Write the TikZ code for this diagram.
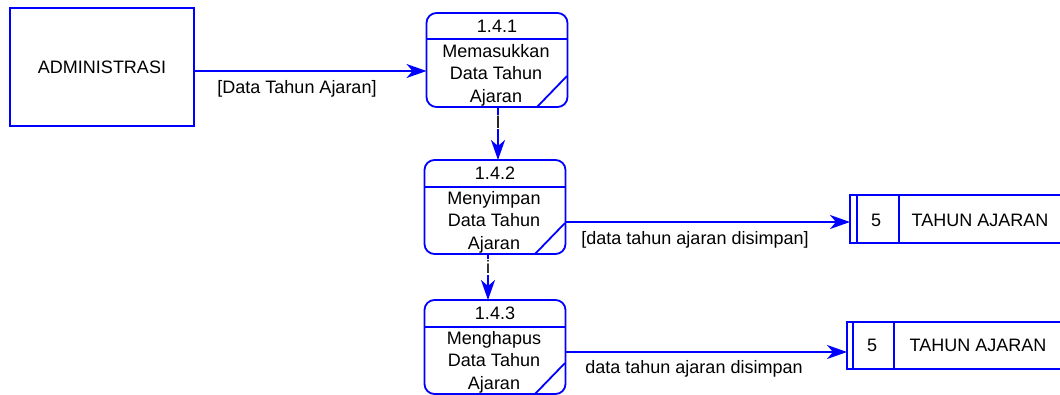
\documentclass[tikz,border=0pt]{standalone}
\usepackage{fontspec}
\setmainfont{Liberation Sans}
\usetikzlibrary{arrows.meta}
\definecolor{dfdblue}{RGB}{0,0,255}
\tikzset{
  x=1pt, y=-1pt,
  every node/.style={inner sep=0pt, outer sep=0pt, font=\fontsize{18}{22.5}\selectfont, text=black},
  line/.style={draw=dfdblue, line width=1.8pt},
  proc/.style={line, rounded corners=10pt, minimum width=141pt, minimum height=94pt},
  extent/.style={line, minimum width=184pt, minimum height=118pt},
  flow/.style={draw=dfdblue, line width=1.8pt, -{Stealth[length=20pt, width=14pt, inset=6pt]}},
  flowlabel/.style={fill=white, inner sep=1pt},
}
\begin{document}
\begin{tikzpicture}
\useasboundingbox (0,0) rectangle (1060,394);
% external entity
\node[extent] (adm) at (102,67) {ADMINISTRASI};
% processes
\node[proc] (p1) at (497,60) {};
\draw[line] (p1.west |- 0,39) -- (p1.east |- 0,39);
\draw[line] (537,107) -- (567,76);
\node (p1n) at (497,26) {1.4.1};
\node[align=center] (p1t) at (496,75) {Memasukkan\\Data Tahun\\Ajaran};

\node[proc] (p2) at (495,207) {};
\draw[line] (p2.west |- 0,187) -- (p2.east |- 0,187);
\draw[line] (535,254) -- (565,223);
\node (p2n) at (495,173) {1.4.2};
\node[align=center] (p2t) at (494,222) {Menyimpan\\Data Tahun\\Ajaran};

\node[proc] (p3) at (495,347) {};
\draw[line] (p3.west |- 0,327) -- (p3.east |- 0,327);
\draw[line] (535,394) -- (565,363);
\node (p3n) at (495,313) {1.4.3};
\node[align=center] (p3t) at (494,362) {Menghapus\\Data Tahun\\Ajaran};

% data stores
\coordinate (s1) at (850,222);
\draw[line] (1061,195) -- (850,195) -- (850,243) -- (1061,243);
\draw[line] (857,195) -- (857,243);
\draw[line] (899,195) -- (899,243);
\node (s1n) at (876,220) {5};
\node (s1t) at (980,220) {TAHUN AJARAN};

\coordinate (s2) at (847,352);
\draw[line] (1061,322) -- (847,322) -- (847,369) -- (1061,369);
\draw[line] (853,322) -- (853,369);
\node (s2n) at (872,345) {5};
\draw[line] (894,322) -- (894,369);
\node (s2t) at (978,345) {TAHUN AJARAN};

% flows
\draw[flow] (adm.east |- 0,71) -- (p1.west |- 0,71);
\node (l1) at (297,89) {[Data Tahun Ajaran]};

\draw[flow] (p1.south -| 498,0) -- (p2.north -| 498,0);
\node[flowlabel] (l2) at (498,122) {I};

\draw[flow] (p2.south -| 488,0) -- (p3.north -| 488,0);
\node[flowlabel] (l3) at (488,267) {i};

\draw[flow] (p2.east |- s1) -- (s1);
\node (l4) at (695,240) {[data tahun ajaran disimpan]};

\draw[flow] (p3.east |- s2) -- (s2);
\node (l5) at (694,369) {data tahun ajaran disimpan};
\end{tikzpicture}
\end{document}
